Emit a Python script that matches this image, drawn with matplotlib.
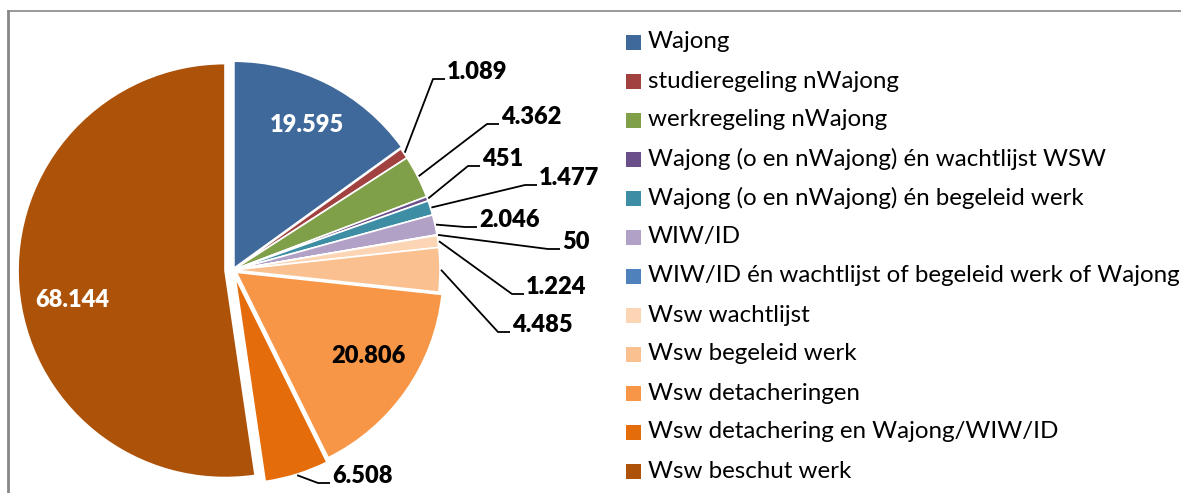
import matplotlib
matplotlib.use("Agg")
import matplotlib.pyplot as plt
from matplotlib.patches import Rectangle
from matplotlib.lines import Line2D
import numpy as np

# ---- data ----
categories = [
    "Wajong",
    "studieregeling nWajong",
    "werkregeling nWajong",
    "Wajong (o en nWajong) én wachtlijst WSW",
    "Wajong (o en nWajong) én begeleid werk",
    "WIW/ID",
    "WIW/ID én wachtlijst of begeleid werk of Wajong",
    "Wsw wachtlijst",
    "Wsw begeleid werk",
    "Wsw detacheringen",
    "Wsw detachering en Wajong/WIW/ID",
    "Wsw beschut werk",
]
values = [19595, 1089, 4362, 451, 1477, 2046, 50, 1224, 4485, 20806, 6508, 68144]
value_labels = ["19.595", "1.089", "4.362", "451", "1.477", "2.046", "50",
                "1.224", "4.485", "20.806", "6.508", "68.144"]
colors = ["#40699B", "#A14240", "#809F49", "#6A4F8B", "#3D8EA5", "#B1A1C7",
          "#4F81BD", "#FCD5B4", "#FAC08F", "#F79646", "#E46C0A", "#AD5209"]

# ---- layout (pixel units) ----
W, H = 1181, 493
def Y(y):
    return H - y

explode = [2, 0, 0, 0, 0, 0, 0, 0, 0, 4, 7, 8]
center = (233, Y(270))
radius = 207

fig = plt.figure(figsize=(W / 100, H / 100), dpi=100)
ax = fig.add_axes([0, 0, 1, 1])
wedges, _ = ax.pie(values, colors=colors, startangle=90, counterclock=False,
                   center=center, radius=radius, explode=explode,
                   wedgeprops=dict(edgecolor="white", linewidth=1.2))
ax.set_xlim(0, W)
ax.set_ylim(0, H)
ax.set_aspect("equal")
ax.axis("off")

FONT = ["Lato", "DejaVu Sans"]
LBL_SIZE = 17
LEG_SIZE = 17.4

# outside labels: text left x, text centre y (image coords)
outside = {1: (447, 72), 2: (501, 117), 3: (482, 159), 4: (539, 178),
           5: (479, 220), 6: (562, 242), 7: (526, 287), 8: (512, 325),
           10: (332, 476)}
inside = {0: ((307, 125), "white"), 9: ((368, 356), "black"),
          11: ((72, 300), "white")}

for i, w in enumerate(wedges):
    if i in outside:
        tx, ty = outside[i]
        mid = np.deg2rad(0.5 * (w.theta1 + w.theta2))
        sx = w.center[0] + (w.r + 1) * np.cos(mid)
        sy = w.center[1] + (w.r + 1) * np.sin(mid)
        ex, ey = tx - 2, Y(ty + 7)
        ax.plot([sx, ex - 12, ex], [sy, ey, ey], color="black", lw=1.3,
                solid_capstyle="butt")
        ax.text(tx, Y(ty), value_labels[i], ha="left", va="center",
                fontsize=LBL_SIZE, fontweight="heavy", family=FONT, color="black")
    else:
        (tx, ty), c = inside[i]
        ax.text(tx, Y(ty), value_labels[i], ha="center", va="center",
                fontsize=LBL_SIZE, fontweight="heavy", family=FONT, color=c)

# legend
for i, (cat, col) in enumerate(zip(categories, colors)):
    yc = 42 + i * 39.0
    ax.add_patch(Rectangle((626, Y(yc + 7.5)), 15, 15, facecolor=col,
                           edgecolor="none"))
    ax.text(648, Y(yc), cat, ha="left", va="center", fontsize=LEG_SIZE,
            family=FONT, color="black")

# chart frame (partially visible)
ax.add_line(Line2D([8, W], [Y(10.5), Y(10.5)], color="#878787", lw=1.2))
ax.add_line(Line2D([8, 8], [Y(10.5), 0], color="#878787", lw=2))

fig.savefig("out.png", dpi=100)
